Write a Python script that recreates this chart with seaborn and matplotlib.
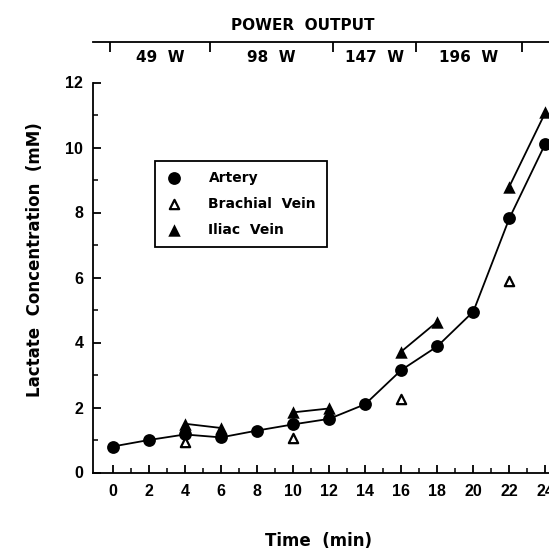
import matplotlib
matplotlib.use("Agg")
import matplotlib.pyplot as plt
import seaborn as sns
import pandas as pd
from matplotlib.transforms import blended_transform_factory

# ---- data ----
time_artery = [0, 2, 4, 6, 8, 10, 12, 14, 16, 18, 20, 22, 24]
lactate_artery = [0.8, 1.0, 1.17, 1.08, 1.29, 1.48, 1.65, 2.1, 3.15, 3.88, 4.95, 7.82, 10.12]
time_brachial = [4, 10, 16, 22]
lactate_brachial = [0.95, 1.05, 2.25, 5.88]
time_iliac = [4, 6, 10, 12, 16, 18, 22, 24]
lactate_iliac = [1.5, 1.37, 1.85, 1.97, 3.72, 4.64, 8.8, 11.08]
iliac_segment = [1, 1, 2, 2, 3, 3, 4, 4]

x_ticks = list(range(0, 25, 2))
y_ticks = list(range(0, 13, 2))
stage_bounds = [-0.15, 5.4, 12.2, 16.8, 22.7]
power_labels = ["49  W", "98  W", "147  W", "196  W"]

sns.set_style("ticks")
plt.rcParams["font.family"] = ["DejaVu Sans"]
plt.rcParams["font.weight"] = "bold"
for k in ["text.color", "axes.labelcolor", "xtick.color", "ytick.color", "axes.edgecolor"]:
    plt.rcParams[k] = "black"

W, H = 549, 554
fig = plt.figure(figsize=(W / 100, H / 100), dpi=100)

x0, x1 = 93, 549
y_bot, y_top = 472.5, 82.5
xlim = (-1.1, 24.2)
ax = fig.add_axes([x0 / W, 1 - y_bot / H, (x1 - x0) / W, (y_bot - y_top) / H])

df_art = pd.DataFrame({"t": time_artery, "v": lactate_artery})
df_il = pd.DataFrame({"t": time_iliac, "v": lactate_iliac, "seg": iliac_segment})
df_br = pd.DataFrame({"t": time_brachial, "v": lactate_brachial})

sns.lineplot(data=df_art, x="t", y="v", color="black", lw=1.3, ax=ax, legend=False)
sns.lineplot(data=df_il, x="t", y="v", units="seg", estimator=None, color="black",
             lw=1.3, ax=ax, legend=False)
sns.scatterplot(data=df_art, x="t", y="v", marker="o", color="black", s=85,
                edgecolor="black", linewidth=0, ax=ax, label="Artery", zorder=3)
sns.scatterplot(data=df_br, x="t", y="v", marker="^", color="white", s=45,
                edgecolor="black", linewidth=1.6, ax=ax, label="Brachial  Vein", zorder=3)
sns.scatterplot(data=df_il, x="t", y="v", marker="^", color="black", s=80,
                edgecolor="black", linewidth=0, ax=ax, label="Iliac  Vein", zorder=3)

ax.set_xlim(*xlim)
ax.set_ylim(0, 12)
ax.set_xticks(x_ticks)
ax.set_xticks(range(1, 25, 2), minor=True)
ax.set_yticks(y_ticks)
ax.set_yticks(range(1, 13, 2), minor=True)
for s in ["top", "right"]:
    ax.spines[s].set_visible(False)
for s in ["left", "bottom"]:
    ax.spines[s].set_linewidth(1.3)
ax.tick_params(axis="both", which="major", direction="in", length=6, width=1.3,
               labelsize=11.5, color="black", labelcolor="black")
ax.tick_params(axis="both", which="minor", direction="in", length=3.5, width=1.1)
ax.tick_params(axis="x", which="major", pad=8)
ax.tick_params(axis="y", which="major", pad=7)
for lab in ax.get_xticklabels() + ax.get_yticklabels():
    lab.set_fontweight("bold")
    lab.set_fontfamily("Liberation Sans")

ax.set_xlabel("Time  (min)", fontsize=12, fontweight="bold", color="black")
ax.set_ylabel("Lactate  Concentration  (mM)", fontsize=12, fontweight="bold", color="black")
ax.xaxis.set_label_coords(0.495, -0.152)
ax.yaxis.set_label_coords(-0.108, 0.545)

leg = ax.legend(loc="upper left", bbox_to_anchor=(0.136, 0.80), borderaxespad=0,
                frameon=True, fancybox=False, edgecolor="black", framealpha=1,
                prop={"weight": "bold", "size": 10}, handletextpad=1.9,
                labelspacing=0.85, borderpad=0.75, handlelength=1.2)
leg.get_frame().set_linewidth(1.3)
for t in leg.get_texts():
    t.set_color("black")

# ---- power output bar ----
top_line, top_bottom = 42, 72
axp = fig.add_axes([x0 / W, 1 - top_bottom / H, (x1 - x0) / W, (top_bottom - top_line) / H])
axp.set_xlim(*xlim)
axp.set_ylim(0, 1)
axp.patch.set_visible(False)
for s in ["left", "right", "bottom"]:
    axp.spines[s].set_visible(False)
axp.spines["top"].set_linewidth(1.3)
axp.set_yticks([])
axp.xaxis.set_ticks_position("top")
axp.set_xticks(stage_bounds)
axp.tick_params(axis="x", direction="in", length=7.5, width=1.3, labeltop=False,
                labelbottom=False, color="black")
tr = blended_transform_factory(axp.transData, axp.transAxes)
for i, lab in enumerate(power_labels):
    mid = (stage_bounds[i] + stage_bounds[i + 1]) / 2
    axp.text(mid, 0.5, lab, transform=tr, ha="center", va="center",
             fontsize=11, fontweight="bold", color="black")
axp.text((303 - x0) / (x1 - x0), (top_bottom - 25) / (top_bottom - top_line),
         "POWER  OUTPUT", transform=axp.transAxes, ha="center", va="center",
         fontsize=11, fontweight="bold", color="black")

fig.savefig("out.png", dpi=100)
